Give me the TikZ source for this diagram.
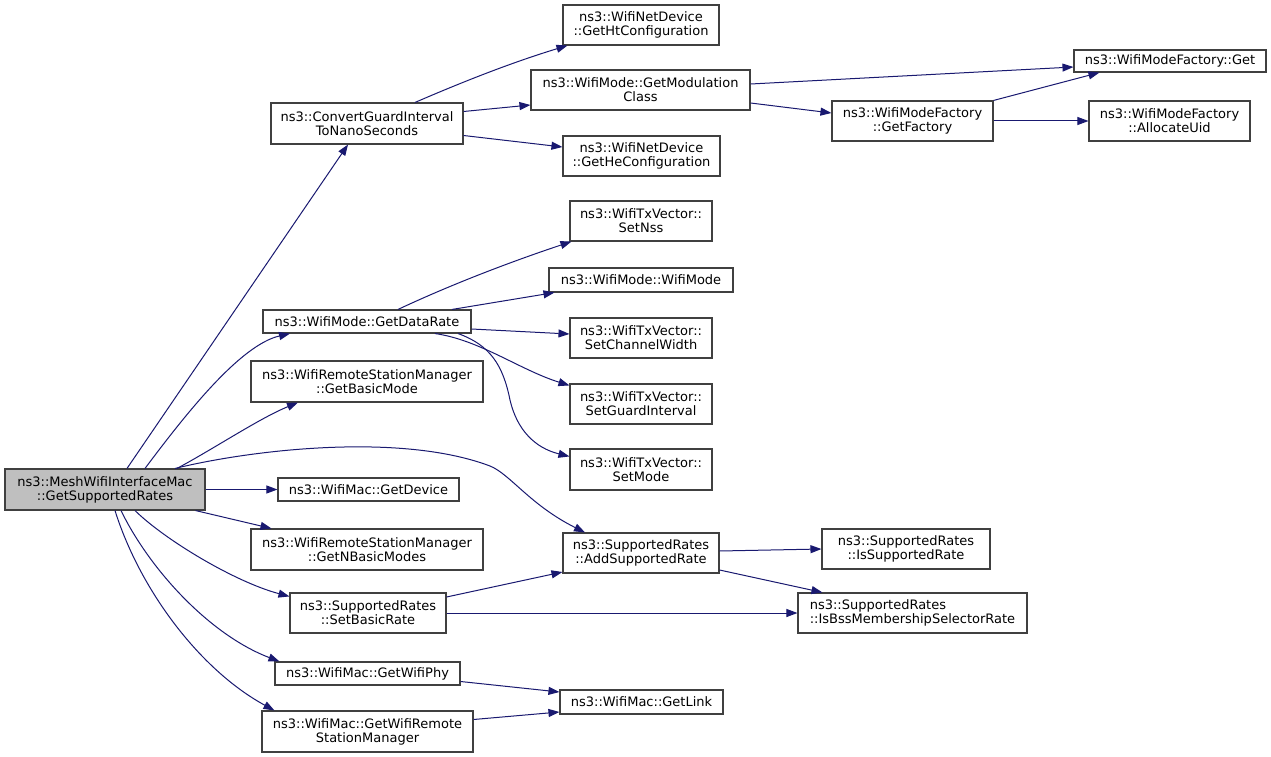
\documentclass[tikz,border=0pt]{standalone}
\usepackage{fontspec}
\setmainfont{DejaVu Sans}
\usetikzlibrary{arrows.meta}
\definecolor{edgecol}{HTML}{191970}
\definecolor{boxline}{HTML}{404040}
\definecolor{mainfill}{HTML}{BFBFBF}
\begin{document}
\begin{tikzpicture}[x=1pt,y=-1pt,
  fn/.style={draw=boxline, line width=1.1pt, inner sep=0pt, align=center,
    font=\fontsize{13}{14}\selectfont, text=black, fill=white},
  call/.style={draw=edgecol, line width=1pt, -{Triangle[length=11pt,width=8pt]}, edgecol}
]
\useasboundingbox[fill=white] (0,0) rectangle (1271,757);
% nodes
\node[fn, fill=mainfill, minimum width=200pt, minimum height=41pt] (m) at (105,489.5) {ns3::MeshWifiInterfaceMac\\::GetSupportedRates};
\node[fn, minimum width=192pt, minimum height=41pt] (cg) at (367,123.5) {ns3::ConvertGuardInterval\\ToNanoSeconds};
\node[fn, minimum width=156pt, minimum height=40pt] (ht) at (641,25) {ns3::WifiNetDevice\\::GetHtConfiguration};
\node[fn, minimum width=219pt, minimum height=40pt] (gmc) at (640.5,90) {ns3::WifiMode::GetModulation\\Class};
\node[fn, minimum width=157pt, minimum height=40pt] (he) at (641.5,156) {ns3::WifiNetDevice\\::GetHeConfiguration};
\node[fn, minimum width=192pt, minimum height=22pt] (get) at (1170,61) {ns3::WifiModeFactory::Get};
\node[fn, minimum width=161pt, minimum height=40pt] (gf) at (912.5,121) {ns3::WifiModeFactory\\::GetFactory};
\node[fn, minimum width=161pt, minimum height=40pt] (au) at (1169.5,121) {ns3::WifiModeFactory\\::AllocateUid};
\node[fn, minimum width=142pt, minimum height=40pt] (nss) at (641,221) {ns3::WifiTxVector::\\SetNss};
\node[fn, minimum width=184pt, minimum height=24pt] (wm) at (641,280) {ns3::WifiMode::WifiMode};
\node[fn, minimum width=208pt, minimum height=23pt] (gdr) at (367,321.5) {ns3::WifiMode::GetDataRate};
\node[fn, minimum width=142pt, minimum height=40pt] (scw) at (641,338) {ns3::WifiTxVector::\\SetChannelWidth};
\node[fn, minimum width=232pt, minimum height=41pt] (gbm) at (367,381.5) {ns3::WifiRemoteStationManager\\::GetBasicMode};
\node[fn, minimum width=142pt, minimum height=40pt] (sgi) at (641,404) {ns3::WifiTxVector::\\SetGuardInterval};
\node[fn, minimum width=142pt, minimum height=41pt] (sm) at (641,469.5) {ns3::WifiTxVector::\\SetMode};
\node[fn, minimum width=181pt, minimum height=23pt] (gd) at (368.5,489.5) {ns3::WifiMac::GetDevice};
\node[fn, minimum width=232pt, minimum height=41pt] (gnbm) at (367,549.5) {ns3::WifiRemoteStationManager\\::GetNBasicModes};
\node[fn, minimum width=156pt, minimum height=40pt] (asr) at (641,553) {ns3::SupportedRates\\::AddSupportedRate};
\node[fn, minimum width=168pt, minimum height=40pt] (is) at (906,549) {ns3::SupportedRates\\::IsSupportedRate};
\node[fn, minimum width=156pt, minimum height=40pt] (sbr) at (368,613) {ns3::SupportedRates\\::SetBasicRate};
\node[fn, minimum width=229pt, minimum height=40pt, align=left] (ibs) at (912.5,613) {ns3::SupportedRates\\::IsBssMembershipSelectorRate};
\node[fn, minimum width=185pt, minimum height=23pt] (gwp) at (367.5,673.5) {ns3::WifiMac::GetWifiPhy};
\node[fn, minimum width=163pt, minimum height=24pt] (gl) at (641.5,702) {ns3::WifiMac::GetLink};
\node[fn, minimum width=211pt, minimum height=41pt] (gwr) at (367.5,731.5) {ns3::WifiMac::GetWifiRemote\\StationManager};
% edges from main
\draw[call] ([xshift=22pt]m.north) -- ([xshift=-19pt]cg.south);
\draw[call] ([xshift=40pt]m.north) .. controls (185,415) and (240,345) .. ([xshift=-77pt]gdr.south);
\draw[call] ([xshift=72pt]m.north) .. controls (215,448) and (260,418) .. ([xshift=-69pt]gbm.south);
\draw[call] ([xshift=70pt]m.north) .. controls (250,450) and (400,432) .. (490,466)
  .. controls (510,474) and (530,505) .. ([xshift=-56pt]asr.north);
\draw[call] (m.east) -- (gd.west);
\draw[call] ([xshift=-10pt]m.south east) -- ([xshift=21pt]gnbm.north west);
\draw[call] ([xshift=30pt]m.south) .. controls (165,540) and (235,582) .. ([yshift=-4pt]sbr.north west);
\draw[call] ([xshift=16pt]m.south) .. controls (150,570) and (210,635) .. ([xshift=5pt]gwp.north west);
\draw[call] ([xshift=10pt]m.south) .. controls (140,590) and (200,670) .. ([xshift=13pt]gwr.north west);
% ConvertGuardInterval
\draw[call] ([xshift=48pt]cg.north) .. controls (460,83) and (510,63) .. ([xshift=5pt]ht.south west);
\draw[call] ([yshift=12pt]cg.east) -- ([yshift=-15pt]gmc.west);
\draw[call] ([yshift=-12pt]cg.east) -- ([yshift=9pt]he.west);
% GetModulationClass
\draw[call] ([yshift=6pt]gmc.east) -- ([yshift=-6pt]get.west);
\draw[call] ([yshift=-13pt]gmc.east) -- ([yshift=8pt]gf.west);
% GetFactory
\draw[call] (gf.north east) -- ([xshift=26pt]get.south west);
\draw[call] (gf.east) -- (au.west);
% GetDataRate
\draw[call] ([xshift=31pt]gdr.north) .. controls (450,285) and (510,262) .. ([xshift=2pt]nss.south west);
\draw[call] ([xshift=85pt]gdr.north) -- ([xshift=6pt]wm.south west);
\draw[call] ([yshift=-7.5pt]gdr.east) -- ([yshift=4pt]scw.west);
\draw[call] ([xshift=68pt]gdr.south) .. controls (480,340) and (520,370) .. ([yshift=-2pt]sgi.north west);
\draw[call] ([xshift=91pt]gdr.south) .. controls (490,345) and (503,365) .. (510,400)
  .. controls (517,430) and (535,448) .. ([yshift=-8pt]sm.north west);
% AddSupportedRate
\draw[call] ([yshift=2pt]asr.east) -- (is.west);
\draw[call] ([yshift=-17pt]asr.east) -- ([xshift=25pt]ibs.north west);
% SetBasicRate
\draw[call] ([yshift=16pt]sbr.east) -- ([yshift=-19pt]asr.west);
\draw[call] (sbr.east) -- (ibs.west);
% GetLink callers
\draw[call] ([yshift=-8pt]gwp.east) -- ([yshift=10pt]gl.west);
\draw[call] ([yshift=12pt]gwr.east) -- ([yshift=-10pt]gl.west);
\end{tikzpicture}
\end{document}
